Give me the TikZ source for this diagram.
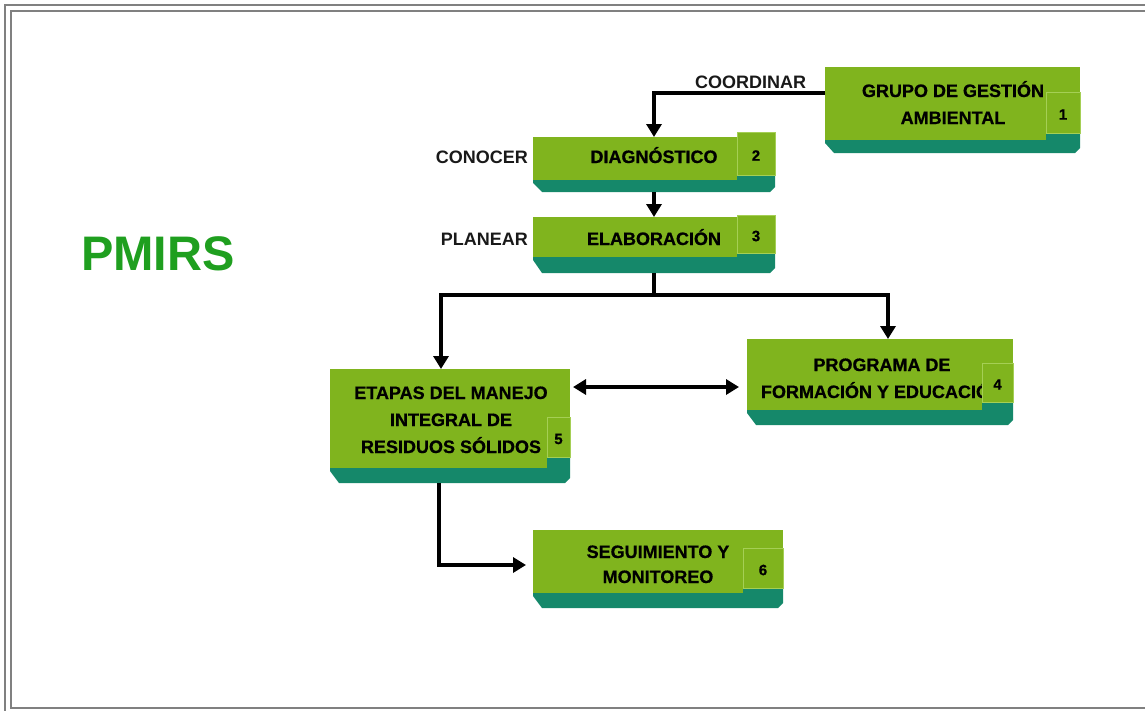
\documentclass[tikz,border=0pt]{standalone}
\usepackage{fontspec}
\setmainfont{Liberation Sans}
\newfontfamily\panelfont{Liberation Sans Bold}[FakeBold=0.7]
\usetikzlibrary{arrows.meta,calc}

\definecolor{facegreen}{HTML}{80B41E}
\definecolor{sideteal}{HTML}{15886A}
\definecolor{tabedge}{HTML}{A5CF55}
\definecolor{titlegreen}{HTML}{1F9F1F}
\definecolor{framegray}{HTML}{808080}

\tikzset{
  hit/.style={rectangle, inner sep=0pt, outer sep=0pt, draw=none},
  boxtext/.style={font=\panelfont\fontsize{18}{27}\selectfont, align=center, inner sep=0pt, anchor=base, text=black},
  lbl/.style={font=\bfseries\fontsize{18}{20}\selectfont, inner sep=0pt, text=black!90},
  num/.style={font=\panelfont\fontsize{15}{17}\selectfont, inner sep=0pt, text=black},
  tabbox/.style={fill=facegreen, draw=tabedge, line width=0.8pt},
  line/.style={draw=black, line width=4pt, line join=miter},
  conn/.style={line, -{Triangle[length=13pt,width=15pt]}},
  conntwo/.style={line, {Triangle[length=13pt,width=15pt]}-{Triangle[length=13pt,width=15pt]}},
}

% #1 name, #2 left, #3 top, #4 right, #5 face bottom, #6 side bottom,
% #7 tab left, #8 tab top, #9 tab bottom
\newcommand{\panel}[9]{%
  \fill[facegreen] (#2,#3) rectangle (#4,#5);
  \fill[sideteal] (#2,#5) -- (#7,#5) -- (#7,#9) -- (#4,#9) -- (#4,#6-5)
     -- (#4-5,#6) -- (#2+9,#6) -- (#2,#5+3) -- cycle;
  \node[hit, minimum width={(#4-#2)*1pt}, minimum height={(#6-#3)*1pt}]
     (#1) at ({(#2+#4)/2},{(#3+#6)/2}) {};
  \coordinate (#1-tabA) at (#7,#8);
  \coordinate (#1-tabB) at (#4,#9);
}
% number tab on the right of a panel
\newcommand{\paneltab}[2]{%
  \draw[tabbox] (#1-tabA) rectangle (#1-tabB);
  \node[num] (#1-num) at ($(#1-tabA)!0.5!(#1-tabB)+(0,2)$) {#2};
}

\begin{document}
\begin{tikzpicture}[x=1pt, y=-1pt]
\useasboundingbox (0,0) rectangle (1145,710);

% double frame
\draw[framegray, line width=2pt] (5,720) -- (5,5) -- (1150,5);
\draw[framegray, line width=2.6pt] (1150,708) -- (11,708) -- (11,11) -- (1150,11);

% title
\node[font=\bfseries\fontsize{48.5}{50}\selectfont, text=titlegreen, anchor=base west, inner sep=0pt]
  (title) at (81,270) {PMIRS};

% panels
\panel{grupo}{825}{67}{1080}{140}{153}{1046}{92}{133}
\panel{diag}{533}{137}{775}{180}{192}{737}{132}{175}
\panel{elab}{533}{217}{775}{257}{273}{737}{215}{253}
\panel{etapas}{330}{369}{570}{468}{483}{547}{417}{457}
\panel{program}{747}{339}{1013}{410}{425}{982}{363}{402}
\panel{seguim}{533}{530}{783}{593}{608}{743}{548}{588}

% panel texts (base = baseline of the last line)
\node[boxtext] (grupo-t)  at (953,124) {GRUPO DE GESTIÓN\\AMBIENTAL};
\node[boxtext] (diag-t)   at (654,163) {DIAGNÓSTICO};
\node[boxtext] (elab-t)   at (654,245) {ELABORACIÓN};
\node[boxtext] (etapas-t) at (451,453) {ETAPAS DEL MANEJO\\INTEGRAL DE\\RESIDUOS SÓLIDOS};
\begin{scope}
  % the second line runs under the number tab and is cut there
  \clip (747,339) rectangle (982,410);
  \node[boxtext] (program-t) at (882,398) {PROGRAMA DE\\FORMACIÓN Y EDUCACIÓN};
\end{scope}
\node[boxtext, font=\panelfont\fontsize{18}{25}\selectfont] (seguim-t) at (658,583) {SEGUIMIENTO Y\\MONITOREO};

% number tabs
\paneltab{grupo}{1}
\paneltab{diag}{2}
\paneltab{elab}{3}
\paneltab{program}{4}
\paneltab{etapas}{5}
\paneltab{seguim}{6}

% connectors
\draw[conn] (grupo.west |- 0,93) -| (diag.north);
\draw[conn] (diag.south) -- (elab.north);
\coordinate (split) at (elab.south |- 0,295);
\draw[line] (elab.south) -- (split);
\draw[conn] (split) -| (etapas.north -| 441,0);
\draw[conn] (split) -| (program.north -| 888,0);
\draw[conntwo, shorten <=3pt, shorten >=8pt] (etapas.east |- 0,387) -- (program.west |- 0,387);
\draw[conn, shorten >=7pt] (etapas.south -| 439,0) |- (seguim.west |- 0,565);

% connector labels
\node[lbl, anchor=base west] (coord-l) at (695,88) {COORDINAR};
\node[lbl, anchor=base east] (conoc-l) at (528,163) {CONOCER};
\node[lbl, anchor=base east] (plan-l)  at (528,245) {PLANEAR};
\end{tikzpicture}
\end{document}
